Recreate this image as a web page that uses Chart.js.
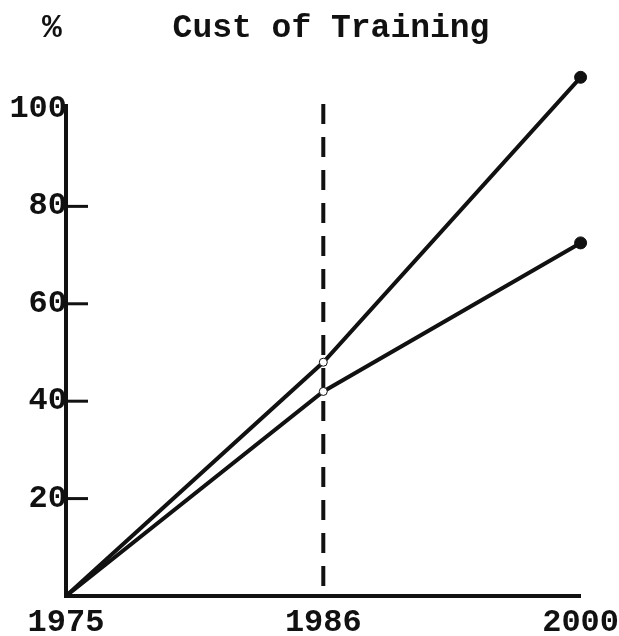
<!DOCTYPE html>
<html>
<head>
<meta charset="utf-8">
<script src="https://cdn.jsdelivr.net/npm/chart.js@4"></script>
<style>
  html, body { margin: 0; padding: 0; background: #fff; }
  #wrap { width: 619px; height: 636px; }
</style>
</head>
<body>
<div id="wrap"><canvas id="costChart" width="619" height="636"></canvas></div>
<script>
// values
const years = ['1975', '1986', '2000'];
const upperCost = [0, 48, 106.5];
const lowerCost = [0, 42, 72.5];
const yLabels = [20, 40, 60, 80, 100];
const yTickValues = [20, 40, 60, 80]; // small marks on the axis
const markerYear = '1986';
const markerTop = 101;

const ink = '#111';
const typeFont = '"Liberation Mono", "DejaVu Sans Mono", monospace';

// title and % sign, typed above the plot
const headerPlugin = {
    id: 'header',
    afterDraw(chart) {
        const ctx = chart.ctx;
        ctx.save();
        ctx.fillStyle = ink;
        ctx.font = 'bold 33px ' + typeFont;
        ctx.textAlign = 'center';
        ctx.textBaseline = 'middle';
        ctx.fillText('%', 52, 29);
        ctx.fillText('Cust of Training', 331, 29);
        ctx.restore();
    }
};

// y axis line (stops at 100) and short tick marks pointing into the plot
const axisMarks = {
    id: 'axisMarks',
    beforeDatasetsDraw(chart) {
        const ctx = chart.ctx;
        const y = chart.scales.y;
        const left = chart.chartArea.left;
        ctx.save();
        ctx.strokeStyle = ink;
        ctx.lineWidth = 4;
        ctx.beginPath();
        ctx.moveTo(left, y.getPixelForValue(101));
        ctx.lineTo(left, y.getPixelForValue(0) + 2);
        ctx.stroke();
        ctx.lineWidth = 3;
        yTickValues.forEach(v => {
            const py = y.getPixelForValue(v);
            ctx.beginPath();
            ctx.moveTo(left, py);
            ctx.lineTo(left + 22, py);
            ctx.stroke();
        });
        ctx.restore();
    }
};

const ctx = document.getElementById('costChart').getContext('2d');
new Chart(ctx, {
    type: 'line',
    data: {
        labels: years,
        datasets: [
            {
                data: upperCost,
                borderColor: ink,
                backgroundColor: ink,
                borderWidth: 4,
                pointRadius: [0, 4, 6],
                pointBorderWidth: 1,
                pointBackgroundColor: ['#fff', '#fff', ink],
                pointBorderColor: ink,
                tension: 0
            },
            {
                data: lowerCost,
                borderColor: ink,
                backgroundColor: ink,
                borderWidth: 4,
                pointRadius: [0, 4, 6],
                pointBorderWidth: 1,
                pointBackgroundColor: ['#fff', '#fff', ink],
                pointBorderColor: ink,
                tension: 0
            },
            {
                // dashed marker at 1986
                data: [{ x: markerYear, y: markerTop }, { x: markerYear, y: 0 }],
                borderColor: ink,
                borderWidth: 4,
                borderDash: [20, 13],
                pointRadius: 0
            }
        ]
    },
    options: {
        responsive: false,
        animation: false,
        layout: { padding: { top: 70, right: 0, bottom: 0, left: 0 } },
        plugins: {
            legend: { display: false },
            tooltip: { enabled: false }
        },
        scales: {
            x: {
                type: 'category',
                offset: false,
                grid: { display: false },
                border: { display: true, color: ink, width: 4 },
                ticks: {
                    color: ink,
                    padding: 0,
                    maxRotation: 0,
                    font: { family: typeFont, size: 32, weight: 'bold' }
                },
                afterFit(scale) { scale.height = 40; }
            },
            y: {
                min: 0,
                max: 108,
                grid: { display: false },
                border: { display: false },
                afterBuildTicks(scale) {
                    scale.ticks = yLabels.map(v => ({ value: v }));
                },
                ticks: {
                    color: ink,
                    padding: -9,
                    font: { family: typeFont, size: 32, weight: 'bold' }
                },
                afterFit(scale) { scale.width = 66; }
            }
        }
    },
    plugins: [headerPlugin, axisMarks]
});
</script>
</body>
</html>
